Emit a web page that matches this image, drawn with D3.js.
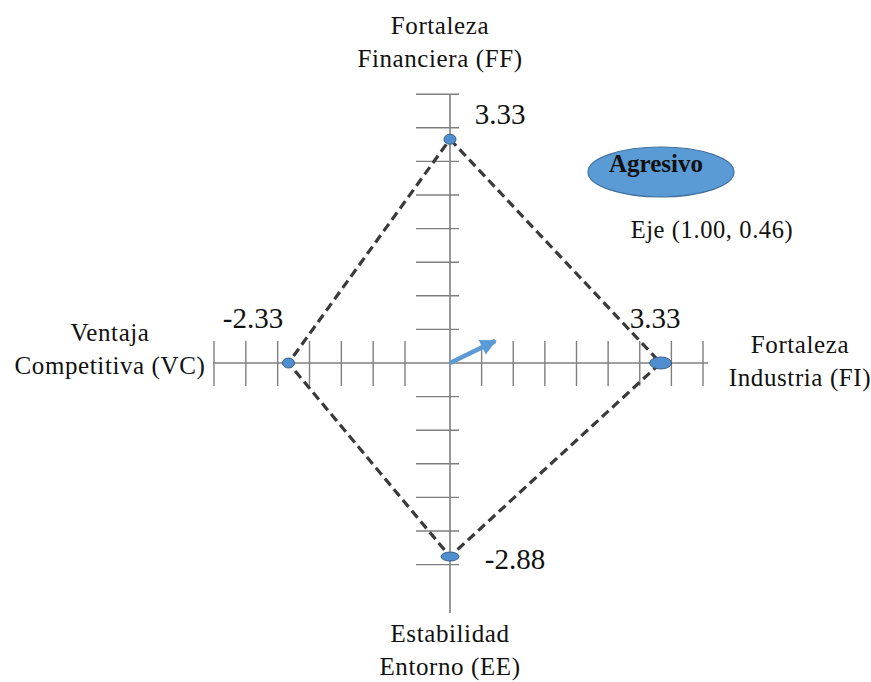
<!DOCTYPE html>
<html><head><meta charset="utf-8">
<script src="https://cdn.jsdelivr.net/npm/d3@7"></script>
<style>
html,body{margin:0;padding:0;background:#fff;}
</style></head>
<body><svg id="c" width="871" height="682"></svg>
<script>
// ---- data ----
const axisKeys   = ["FF", "FI", "EE", "VC"];
const axisNames  = [["Fortaleza", "Financiera (FF)"], ["Fortaleza", "Industria (FI)"], ["Estabilidad", "Entorno (EE)"], ["Ventaja", "Competitiva (VC)"]];
const axisValues = [3.33, 3.33, -2.88, -2.33];
const valueLabels = ["3.33", "3.33", "-2.88", "-2.33"];
const xTicks = [-3.5, -3, -2.5, -2, -1.5, -1, -0.5, 0.5, 1, 1.5, 2, 2.5, 3, 3.5, 4];
const yTicks = [4, 3.5, 3, 2.5, 2, 1.5, 1, 0.5, -0.5, -1, -1.5, -2, -2.5, -3];
const vector = [1.00, 0.46];
const vectorLabel = "Eje (1.00, 0.46)";
const quadrant = "Agresivo";

const FONT = "'Liberation Serif', 'Times New Roman', serif";

// ---- scales ----
const x = d3.scaleLinear().domain([-3.5, -0.5, 0, 4]).range([214, 405, 450, 703]);
const y = d3.scaleLinear().domain([-4, 4]).range([363 + 268.8, 363 - 268.8]);
const svg = d3.select("#c");

const axisColor = "#7f7f7f";
svg.append("line").attr("x1", x(-3.5) - 1).attr("x2", x(4) + 5).attr("y1", y(0)).attr("y2", y(0))
  .attr("stroke", axisColor).attr("stroke-width", 1.6);
svg.append("line").attr("x1", x(0)).attr("x2", x(0)).attr("y1", y(4)).attr("y2", y(-3.72))
  .attr("stroke", axisColor).attr("stroke-width", 1.6);
svg.selectAll(".xt").data(xTicks).join("line")
  .attr("x1", d => x(d)).attr("x2", d => x(d)).attr("y1", y(0) - 22).attr("y2", y(0) + 23)
  .attr("stroke", axisColor).attr("stroke-width", 1.4);
svg.selectAll(".yt").data(yTicks).join("line")
  .attr("x1", x(0) - 34).attr("x2", x(0) + 9).attr("y1", d => y(d)).attr("y2", d => y(d))
  .attr("stroke", axisColor).attr("stroke-width", 1.4);

const pos = (k, v) => k === "FF" || k === "EE" ? [x(0), y(v)] : [x(v), y(0)];
const pts = axisKeys.map((k, i) => pos(k, axisValues[i]));
svg.append("path")
  .attr("d", d3.line()([...pts, pts[0]]))
  .attr("fill", "none").attr("stroke", "#3a3a3a").attr("stroke-width", 3.2)
  .attr("stroke-dasharray", "9,5");
const ptSize = {FF: [6, 5], FI: [11, 6], EE: [9, 4.5], VC: [6, 5]};
svg.selectAll(".pt").data(axisKeys).join("ellipse")
  .attr("cx", (k, i) => pts[i][0]).attr("cy", (k, i) => pts[i][1])
  .attr("rx", k => ptSize[k][0]).attr("ry", k => ptSize[k][1])
  .attr("fill", "#4f8fd0").attr("stroke", "#3b5f86").attr("stroke-width", 1);

const vlPos = {FF: [500, 124], FI: [655, 328], EE: [515, 569], VC: [253, 328]};
svg.selectAll(".vl").data(axisKeys).join("text")
  .attr("font-family", FONT)
  .attr("x", k => vlPos[k][0]).attr("y", k => vlPos[k][1]).attr("text-anchor", "middle")
  .attr("font-size", 29).attr("fill", "#111").text((k, i) => valueLabels[i]);

const nmPos = {FF: [440, 34], FI: [800, 353], EE: [450, 642], VC: [110, 341]};
axisKeys.forEach((k, i) => {
  const t = svg.append("text").attr("text-anchor", "middle").attr("font-size", 25)
    .attr("font-family", FONT).attr("fill", "#111").attr("letter-spacing", 0.6);
  axisNames[i].forEach((line, j) => {
    t.append("tspan").attr("x", nmPos[k][0]).attr("y", nmPos[k][1] + j * 33).text(line);
  });
});

const defs = svg.append("defs");
defs.append("marker").attr("id", "ah").attr("viewBox", "0 0 10 10").attr("refX", 9).attr("refY", 5)
  .attr("markerWidth", 4).attr("markerHeight", 3.6).attr("orient", "auto")
  .append("path").attr("d", "M0,0L10,5L0,10Z").attr("fill", "#5b9bd5");
const k = 0.78;
svg.append("line").attr("x1", x(0)).attr("y1", y(0))
  .attr("x2", x(vector[0] * k) - 4).attr("y2", y(vector[1] * k) + 2)
  .attr("stroke", "#5b9bd5").attr("stroke-width", 4.5).attr("marker-end", "url(#ah)");

svg.append("ellipse").attr("cx", 661).attr("cy", 172).attr("rx", 73).attr("ry", 25)
  .attr("fill", "#5b9bd5").attr("stroke", "#41719c").attr("stroke-width", 1.2);
svg.append("text").attr("x", 656).attr("y", 172).attr("text-anchor", "middle")
  .attr("font-family", FONT).attr("fill", "#111")
  .attr("font-size", 25).attr("font-weight", "bold").text(quadrant);

svg.append("text").attr("x", 712).attr("y", 238).attr("text-anchor", "middle")
  .attr("font-family", FONT).attr("fill", "#111")
  .attr("font-size", 24.5).attr("letter-spacing", 0.6).text(vectorLabel);
</script></body></html>
